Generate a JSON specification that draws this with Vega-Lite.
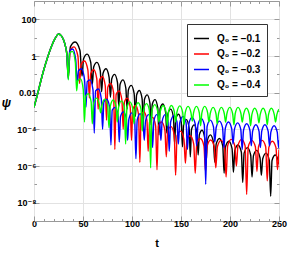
{
"$schema":"https://vega.github.io/schema/vega-lite/v6.json",
"width":245,"height":220,
"autosize":{"type":"none"},
"padding":{"left":34,"top":1,"right":10,"bottom":34},
"background":"white",
"config":{"view":{"stroke":"#999","strokeWidth":1},"font":"Liberation Sans, DejaVu Sans"},
"datasets":{
"k":[{"t":0,"v":1.58e-3},{"t":2,"v":3.98e-3},{"t":4,"v":0.01},{"t":7,"v":0.0447},{"t":10,"v":0.178},{"t":14,"v":0.891},{"t":18,"v":3.55},{"t":22,"v":10},{"t":25,"v":15.8},{"t":28,"v":12.6},{"t":30,"v":7.94},{"t":32,"v":3.55},{"t":33.5,"v":1.26},
{"t":35,"v":0.0891},{"t":37.1,"v":3.16},{"t":42,"v":5.75},{"t":46.9,"v":2.0},
{"t":49,"v":0.0794},{"t":50.6,"v":0.708},{"t":54.2,"v":1.26},{"t":57.9,"v":0.447},
{"t":59.5,"v":0.0282},{"t":60.9,"v":0.251},{"t":64.2,"v":0.447},{"t":67.6,"v":0.158},
{"t":69,"v":0.0112},{"t":70.4,"v":0.112},{"t":73.5,"v":0.2},{"t":76.6,"v":0.0708},
{"t":78,"v":5.62e-3},{"t":79.3,"v":0.0562},{"t":82.2,"v":0.1},{"t":85.2,"v":0.0355},
{"t":86.5,"v":1.78e-3},{"t":87.8,"v":0.0282},{"t":90.8,"v":0.0501},{"t":93.7,"v":0.0178},
{"t":95,"v":1.26e-3},{"t":96.3,"v":0.0141},{"t":99.2,"v":0.0251},{"t":102.2,"v":8.91e-3},
{"t":103.5,"v":5.01e-4},{"t":104.7,"v":7.41e-3},{"t":107.5,"v":0.0132},{"t":110.3,"v":4.68e-3},
{"t":111.5,"v":2.0e-4},{"t":112.7,"v":4.27e-3},{"t":115.5,"v":7.59e-3},{"t":118.3,"v":2.69e-3},
{"t":119.5,"v":1.78e-4},{"t":120.7,"v":2.34e-3},{"t":123.5,"v":4.17e-3},{"t":126.3,"v":1.48e-3},
{"t":127.5,"v":5.01e-5},{"t":128.7,"v":1.35e-3},{"t":131.5,"v":2.4e-3},{"t":134.3,"v":8.51e-4},
{"t":135.5,"v":6.31e-5},{"t":136.7,"v":7.08e-4},{"t":139.5,"v":1.26e-3},{"t":142.3,"v":4.47e-4},
{"t":143.5,"v":1.58e-5},{"t":144.7,"v":3.72e-4},{"t":147.5,"v":6.61e-4},{"t":150.3,"v":2.34e-4},
{"t":151.5,"v":1.12e-5},{"t":152.7,"v":1.91e-4},{"t":155.5,"v":3.39e-4},{"t":158.3,"v":1.2e-4},
{"t":159.5,"v":3.16e-6},{"t":160.7,"v":9.77e-5},{"t":163.5,"v":1.74e-4},{"t":166.3,"v":6.17e-5},
{"t":167.5,"v":3.98e-6},{"t":168.7,"v":5.01e-5},{"t":171.5,"v":8.91e-5},{"t":174.3,"v":3.16e-5},
{"t":175.5,"v":1.26e-6},{"t":176.9,"v":2.51e-5},{"t":180,"v":5.01e-5},{"t":183.1,"v":2.0e-5},
{"t":184.5,"v":1.58e-6},{"t":185.9,"v":1.58e-5},{"t":189.2,"v":3.16e-5},{"t":192.6,"v":1.26e-5},
{"t":194,"v":3.98e-7},{"t":195.4,"v":1.12e-5},{"t":198.8,"v":2.24e-5},{"t":202.1,"v":8.91e-6},
{"t":203.5,"v":4.47e-7},{"t":204.9,"v":7.08e-6},{"t":208.2,"v":1.41e-5},{"t":211.6,"v":5.62e-6},
{"t":213,"v":1.26e-7},{"t":214.4,"v":5.01e-6},{"t":217.8,"v":1e-5},{"t":221.1,"v":3.98e-6},
{"t":222.5,"v":2.51e-7},{"t":223.9,"v":3.55e-6},{"t":227.2,"v":7.08e-6},{"t":230.6,"v":2.82e-6},
{"t":232,"v":3.16e-7},{"t":233.4,"v":2.51e-6},{"t":236.8,"v":5.01e-6},{"t":240.1,"v":2.0e-6},
{"t":241.5,"v":2.24e-8},{"t":242.9,"v":2.0e-6},{"t":246.2,"v":3.98e-6},{"t":249.6,"v":1.58e-6},{"t":250,"v":1.26e-6}],
"r":[{"t":0,"v":1.58e-3},{"t":2,"v":3.98e-3},{"t":4,"v":0.01},{"t":7,"v":0.0447},{"t":10,"v":0.178},{"t":14,"v":0.891},{"t":18,"v":3.55},{"t":22,"v":10},{"t":25,"v":15.8},{"t":28,"v":12.6},{"t":30,"v":7.94},{"t":32,"v":3.55},{"t":33.5,"v":1.26},
{"t":35,"v":0.0631},{"t":36.7,"v":2.0},{"t":40.8,"v":3.16},{"t":44.8,"v":1.0},
{"t":46.5,"v":0.0316},{"t":48,"v":0.339},{"t":51.5,"v":0.537},{"t":55,"v":0.17},
{"t":56.5,"v":5.01e-3},{"t":57.9,"v":0.112},{"t":61,"v":0.178},{"t":64.1,"v":0.0562},
{"t":65.5,"v":1.26e-3},{"t":66.8,"v":0.0479},{"t":69.8,"v":0.0759},{"t":72.7,"v":0.024},
{"t":74,"v":3.16e-4},{"t":75.3,"v":0.02},{"t":78.2,"v":0.0316},{"t":81.2,"v":0.01},
{"t":82.5,"v":7.94e-6},{"t":83.8,"v":7.94e-3},{"t":86.8,"v":0.0126},{"t":89.7,"v":3.98e-3},
{"t":91,"v":1e-4},{"t":92.3,"v":3.16e-3},{"t":95.2,"v":5.01e-3},{"t":98.2,"v":1.58e-3},
{"t":99.5,"v":2.51e-5},{"t":100.8,"v":1.26e-3},{"t":103.8,"v":2.0e-3},{"t":106.7,"v":6.31e-4},
{"t":108,"v":1.58e-6},{"t":109.3,"v":5.62e-4},{"t":112.2,"v":8.91e-4},{"t":115.2,"v":3.16e-4},
{"t":116.5,"v":6.31e-6},{"t":117.9,"v":2.51e-4},{"t":121,"v":4.47e-4},{"t":124.1,"v":1.58e-4},
{"t":125.5,"v":6.31e-7},{"t":126.9,"v":1.41e-4},{"t":130.2,"v":2.51e-4},{"t":133.6,"v":8.91e-5},
{"t":135,"v":3.16e-6},{"t":136.4,"v":7.94e-5},{"t":139.8,"v":1.41e-4},{"t":143.1,"v":5.01e-5},
{"t":144.5,"v":3.16e-7},{"t":146,"v":4.47e-5},{"t":149.5,"v":7.94e-5},{"t":153,"v":2.82e-5},
{"t":154.5,"v":1.41e-6},{"t":156,"v":2.51e-5},{"t":159.5,"v":4.47e-5},{"t":163,"v":1.58e-5},
{"t":164.5,"v":3.98e-7},{"t":166.1,"v":1.58e-5},{"t":169.8,"v":3.16e-5},{"t":173.4,"v":1.26e-5},
{"t":175,"v":5.01e-7},{"t":176.6,"v":1.17e-5},{"t":180.2,"v":2.63e-5},{"t":183.9,"v":1.17e-5},
{"t":185.5,"v":7.94e-7},{"t":187.1,"v":1.12e-5},{"t":190.8,"v":2.51e-5},{"t":194.4,"v":1.12e-5},
{"t":196,"v":2.51e-7},{"t":197.6,"v":1.26e-5},{"t":201.2,"v":2.82e-5},{"t":204.9,"v":1.26e-5},
{"t":206.5,"v":1e-6},{"t":208.1,"v":1.26e-5},{"t":211.8,"v":2.82e-5},{"t":215.4,"v":1.26e-5},
{"t":217,"v":2.82e-8},{"t":218.6,"v":1.12e-5},{"t":222.2,"v":2.51e-5},{"t":225.9,"v":1.12e-5},
{"t":227.5,"v":5.01e-7},{"t":229.1,"v":1.12e-5},{"t":232.8,"v":2.51e-5},{"t":236.4,"v":1.12e-5},
{"t":238,"v":1.58e-7},{"t":239.6,"v":1e-5},{"t":243.2,"v":2.24e-5},{"t":246.9,"v":1e-5},
{"t":248.5,"v":6.31e-7},{"t":250,"v":7.94e-6}],
"b":[{"t":0,"v":1.58e-3},{"t":2,"v":3.98e-3},{"t":4,"v":0.01},{"t":7,"v":0.0447},{"t":10,"v":0.178},{"t":14,"v":0.891},{"t":18,"v":3.55},{"t":22,"v":10},{"t":25,"v":15.8},{"t":28,"v":12.6},{"t":30,"v":7.94},{"t":32,"v":3.55},{"t":33.5,"v":1.26},
{"t":35,"v":0.0562},{"t":36.4,"v":1.91},{"t":39.5,"v":2.4},{"t":42.6,"v":0.603},
{"t":44,"v":0.0316},{"t":45.4,"v":0.158},{"t":48.5,"v":0.2},{"t":51.6,"v":0.0501},
{"t":53,"v":1.58e-3},{"t":54.3,"v":0.0398},{"t":57.2,"v":0.0501},{"t":60.2,"v":0.0141},
{"t":61.5,"v":6.31e-5},{"t":62.8,"v":0.0126},{"t":65.8,"v":0.0158},{"t":68.7,"v":4.47e-3},
{"t":70,"v":1e-4},{"t":71.3,"v":3.16e-3},{"t":74.2,"v":4.47e-3},{"t":77.2,"v":1.58e-3},
{"t":78.5,"v":1.41e-5},{"t":79.8,"v":1.12e-3},{"t":82.8,"v":1.58e-3},{"t":85.7,"v":6.31e-4},
{"t":87,"v":2.0e-5},{"t":88.3,"v":5.01e-4},{"t":91.2,"v":8.91e-4},{"t":94.2,"v":3.98e-4},
{"t":95.5,"v":2.51e-5},{"t":96.8,"v":3.55e-4},{"t":99.8,"v":7.94e-4},{"t":102.7,"v":3.55e-4},
{"t":104,"v":2.51e-6},{"t":105.3,"v":3.16e-4},{"t":108.2,"v":7.08e-4},{"t":111.2,"v":3.16e-4},
{"t":112.5,"v":2.51e-5},{"t":113.8,"v":2.82e-4},{"t":116.8,"v":6.31e-4},{"t":119.7,"v":2.82e-4},
{"t":121,"v":1e-5},{"t":122.3,"v":2.82e-4},{"t":125.2,"v":6.31e-4},{"t":128.2,"v":2.82e-4},
{"t":129.5,"v":2.51e-5},{"t":130.8,"v":2.82e-4},{"t":133.8,"v":6.31e-4},{"t":136.7,"v":2.82e-4},
{"t":138,"v":6.31e-6},{"t":139.4,"v":2.51e-4},{"t":142.7,"v":5.62e-4},{"t":145.9,"v":2.51e-4},
{"t":147.3,"v":1.58e-5},{"t":148.7,"v":2.24e-4},{"t":152,"v":5.01e-4},{"t":155.2,"v":2.24e-4},
{"t":156.6,"v":7.94e-6},{"t":158,"v":2.0e-4},{"t":161.2,"v":4.47e-4},{"t":164.5,"v":2.0e-4},
{"t":165.9,"v":1.26e-5},{"t":167.3,"v":1.78e-4},{"t":170.6,"v":3.98e-4},{"t":173.8,"v":1.78e-4},
{"t":175.2,"v":1e-7},{"t":176.6,"v":1.41e-4},{"t":179.8,"v":3.16e-4},{"t":183.1,"v":1.41e-4},
{"t":184.5,"v":2.0e-5},{"t":185.9,"v":1.26e-4},{"t":189.2,"v":2.82e-4},{"t":192.4,"v":1.26e-4},
{"t":193.8,"v":1e-5},{"t":195.2,"v":1.12e-4},{"t":198.4,"v":2.51e-4},{"t":201.7,"v":1.12e-4},
{"t":203.1,"v":1.58e-5},{"t":204.5,"v":1e-4},{"t":207.8,"v":2.24e-4},{"t":211,"v":1e-4},
{"t":212.4,"v":7.94e-6},{"t":213.8,"v":8.91e-5},{"t":217,"v":2.0e-4},{"t":220.3,"v":8.91e-5},
{"t":221.7,"v":1.26e-5},{"t":223.1,"v":7.94e-5},{"t":226.4,"v":1.78e-4},{"t":229.6,"v":7.94e-5},
{"t":231,"v":1e-5},{"t":232.4,"v":7.94e-5},{"t":235.6,"v":1.78e-4},{"t":238.9,"v":7.94e-5},
{"t":240.3,"v":1.26e-5},{"t":241.7,"v":7.08e-5},{"t":245,"v":1.58e-4},{"t":248.2,"v":7.08e-5},
{"t":249.6,"v":1e-5},{"t":250,"v":2.51e-5}],
"g":[{"t":0,"v":1.58e-3},{"t":2,"v":3.98e-3},{"t":4,"v":0.01},{"t":7,"v":0.0447},{"t":10,"v":0.178},{"t":14,"v":0.891},{"t":18,"v":3.55},{"t":22,"v":10},{"t":25,"v":15.8},{"t":28,"v":12.6},{"t":30,"v":7.94},{"t":32,"v":3.55},{"t":33.5,"v":1.26},
{"t":35,"v":0.0501},{"t":36.3,"v":1.41},{"t":39.2,"v":1.78},{"t":42.2,"v":0.447},
{"t":43.5,"v":0.0126},{"t":44.7,"v":0.0447},{"t":47.5,"v":0.0562},{"t":50.3,"v":0.0141},
{"t":51.5,"v":2.51e-4},{"t":52.7,"v":6.31e-3},{"t":55.5,"v":8.91e-3},{"t":58.3,"v":3.16e-3},
{"t":59.5,"v":2.0e-4},{"t":60.8,"v":2.51e-3},{"t":63.8,"v":5.01e-3},{"t":66.7,"v":2.24e-3},
{"t":68,"v":7.94e-4},{"t":69.3,"v":2.0e-3},{"t":72.2,"v":4.47e-3},{"t":75.2,"v":2.0e-3},
{"t":76.5,"v":1.26e-4},{"t":77.8,"v":1.78e-3},{"t":80.8,"v":3.98e-3},{"t":83.7,"v":1.78e-3},
{"t":85,"v":2.51e-4},{"t":86.3,"v":1.58e-3},{"t":89.2,"v":3.55e-3},{"t":92.2,"v":1.58e-3},
{"t":93.5,"v":1.58e-5},{"t":94.8,"v":1.41e-3},{"t":97.8,"v":3.16e-3},{"t":100.7,"v":1.41e-3},
{"t":102,"v":2.0e-4},{"t":103.3,"v":1.26e-3},{"t":106.2,"v":2.82e-3},{"t":109.2,"v":1.26e-3},
{"t":110.5,"v":7.94e-5},{"t":111.8,"v":1.12e-3},{"t":114.8,"v":2.51e-3},{"t":117.7,"v":1.12e-3},
{"t":119,"v":7.94e-7},{"t":120.3,"v":1e-3},{"t":123.2,"v":2.24e-3},{"t":126.2,"v":1e-3},
{"t":127.5,"v":2.51e-4},{"t":128.8,"v":8.91e-4},{"t":131.8,"v":2.0e-3},{"t":134.7,"v":8.91e-4},
{"t":136,"v":1.58e-4},{"t":137.3,"v":8.91e-4},{"t":140.2,"v":2.0e-3},{"t":143.2,"v":8.91e-4},
{"t":144.5,"v":2.51e-4},{"t":145.8,"v":8.51e-4},{"t":148.8,"v":1.91e-3},{"t":151.7,"v":8.51e-4},
{"t":153,"v":1.78e-4},{"t":154.3,"v":7.94e-4},{"t":157.2,"v":1.78e-3},{"t":160.2,"v":7.94e-4},
{"t":161.5,"v":2.82e-4},{"t":162.8,"v":7.94e-4},{"t":165.8,"v":1.78e-3},{"t":168.7,"v":7.94e-4},
{"t":170,"v":1.58e-4},{"t":171.3,"v":7.94e-4},{"t":174.2,"v":1.78e-3},{"t":177.2,"v":7.94e-4},
{"t":178.5,"v":2.51e-4},{"t":179.8,"v":7.08e-4},{"t":182.8,"v":1.58e-3},{"t":185.7,"v":7.08e-4},
{"t":187,"v":2.0e-4},{"t":188.3,"v":7.08e-4},{"t":191.2,"v":1.58e-3},{"t":194.2,"v":7.08e-4},
{"t":195.5,"v":2.51e-4},{"t":196.8,"v":7.08e-4},{"t":199.8,"v":1.58e-3},{"t":202.7,"v":7.08e-4},
{"t":204,"v":1.78e-4},{"t":205.3,"v":7.08e-4},{"t":208.2,"v":1.58e-3},{"t":211.2,"v":7.08e-4},
{"t":212.5,"v":2.51e-4},{"t":213.8,"v":6.31e-4},{"t":216.8,"v":1.41e-3},{"t":219.7,"v":6.31e-4},
{"t":221,"v":1.58e-4},{"t":222.3,"v":6.31e-4},{"t":225.2,"v":1.41e-3},{"t":228.2,"v":6.31e-4},
{"t":229.5,"v":2.24e-4},{"t":230.8,"v":6.31e-4},{"t":233.8,"v":1.41e-3},{"t":236.7,"v":6.31e-4},
{"t":238,"v":1.78e-4},{"t":239.3,"v":6.31e-4},{"t":242.2,"v":1.41e-3},{"t":245.2,"v":6.31e-4},
{"t":246.5,"v":2.51e-4},{"t":247.8,"v":6.31e-4},{"t":250,"v":1.26e-3}],
"f":[{"t":0,"v":1},{"t":250,"v":1}]
},
"layer":[
{"data":{"name":"k"},
 "mark":{"type":"line","interpolate":"monotone","strokeWidth":1.4,"clip":true},
 "encoding":{
  "x":{"field":"t","type":"quantitative","scale":{"domain":[0,250],"nice":false,"zero":false},
   "axis":{"orient":"bottom","values":[0,10,20,30,40,50,60,70,80,90,100,110,120,130,140,150,160,170,180,190,200,210,220,230,240,250],
    "labelExpr":"datum.value % 50 == 0 ? datum.label : ''",
    "tickSize":{"condition":{"test":"datum.value % 50 == 0","value":-5},"value":-2.5},
    "grid":true,"gridColor":"#e2e2e2",
    "gridOpacity":{"condition":{"test":"datum.value % 50 == 0","value":1},"value":0},
    "domain":false,"tickColor":"#999","labelColor":"black","labelFontSize":9,"labelFontWeight":"bold","labelPadding":3,"labelOverlap":false,"labelBound":false,"labelFlush":false,
    "title":"t","titleFontSize":11,"titleFontWeight":"bold","titleColor":"black","titlePadding":7}},
  "y":{"field":"v","type":"quantitative","scale":{"type":"log","domain":[1e-9,1000],"nice":false},
   "axis":{"orient":"left","values":[1e-9,1e-8,1e-7,1e-6,1e-5,1e-4,0.001,0.01,0.1,1,10,100,1000],
    "labelExpr":"round(log(datum.value)/LN10) == 2 ? '100' : round(log(datum.value)/LN10) == 0 ? '1' : round(log(datum.value)/LN10) == -2 ? '0.01' : round(log(datum.value)/LN10) == -4 ? '10⁻⁴' : round(log(datum.value)/LN10) == -6 ? '10⁻⁶' : round(log(datum.value)/LN10) == -8 ? '10⁻⁸' : ''",
    "tickSize":{"condition":{"test":"round(log(datum.value)/LN10) % 2 == 0","value":-5},"value":-2.5},
    "grid":true,"gridColor":"#e2e2e2",
    "gridOpacity":{"condition":{"test":"round(log(datum.value)/LN10) % 2 == 0","value":1},"value":0},
    "domain":false,"tickColor":"#999","labelColor":"black","labelFontSize":9,"labelFontWeight":"bold","labelPadding":3,"labelOverlap":false,"labelBound":false,"labelFlush":false,
    "title":"ψ","titleAngle":0,"titleX":-28,"titleY":101,"titleAlign":"center","titleBaseline":"middle","titleFontSize":12,"titleFontWeight":"bold","titleFontStyle":"italic","titleColor":"black"}},
  "color":{"datum":"-0.1","type":"nominal",
   "scale":{"domain":["-0.1","-0.2","-0.3","-0.4"],"range":["#000000","#ff0000","#0000ff","#00ff00"]},
   "legend":{"orient":"none","legendX":153,"legendY":23,"title":null,"symbolType":"stroke","symbolSize":225,"symbolStrokeWidth":1.5,
    "labelFontSize":10,"labelFontWeight":"bold","labelColor":"black","labelOffset":7,
    "labelExpr":"'Q₀ = −' + slice(datum.label, 1)",
    "padding":6,"rowPadding":1.5,"strokeColor":"#333","fillColor":"white","cornerRadius":0}}
 }},
{"data":{"name":"r"},
 "mark":{"type":"line","interpolate":"monotone","strokeWidth":1.4,"clip":true},
 "encoding":{
  "x":{"field":"t","type":"quantitative","scale":{"domain":[0,250],"nice":false,"zero":false},"axis":null},
  "y":{"field":"v","type":"quantitative","scale":{"type":"log","domain":[1e-9,1000],"nice":false},"axis":null},
  "color":{"datum":"-0.2","type":"nominal"}}},
{"data":{"name":"b"},
 "mark":{"type":"line","interpolate":"monotone","strokeWidth":1.4,"clip":true},
 "encoding":{
  "x":{"field":"t","type":"quantitative","scale":{"domain":[0,250],"nice":false,"zero":false},"axis":null},
  "y":{"field":"v","type":"quantitative","scale":{"type":"log","domain":[1e-9,1000],"nice":false},"axis":null},
  "color":{"datum":"-0.3","type":"nominal"}}},
{"data":{"name":"g"},
 "mark":{"type":"line","interpolate":"monotone","strokeWidth":1.4,"clip":true},
 "encoding":{
  "x":{"field":"t","type":"quantitative","scale":{"domain":[0,250],"nice":false,"zero":false},"axis":null},
  "y":{"field":"v","type":"quantitative","scale":{"type":"log","domain":[1e-9,1000],"nice":false},"axis":null},
  "color":{"datum":"-0.4","type":"nominal"}}},
{"data":{"name":"f"},
 "mark":{"type":"line","opacity":0},
 "encoding":{
  "x":{"field":"t","type":"quantitative","scale":{"domain":[0,250],"nice":false,"zero":false},
   "axis":{"orient":"top","values":[0,10,20,30,40,50,60,70,80,90,100,110,120,130,140,150,160,170,180,190,200,210,220,230,240,250],
    "labels":false,"grid":false,"domain":false,"tickColor":"#999","title":null,
    "tickSize":{"condition":{"test":"datum.value % 50 == 0","value":-5},"value":-2.5}}},
  "y":{"field":"v","type":"quantitative","scale":{"type":"log","domain":[1e-9,1000],"nice":false},
   "axis":{"orient":"right","values":[1e-9,1e-8,1e-7,1e-6,1e-5,1e-4,0.001,0.01,0.1,1,10,100,1000],
    "labels":false,"grid":false,"domain":false,"tickColor":"#999","title":null,
    "tickSize":{"condition":{"test":"round(log(datum.value)/LN10) % 2 == 0","value":-5},"value":-2.5}}}
 }}
],
"resolve":{"axis":{"x":"independent","y":"independent"}}
}
